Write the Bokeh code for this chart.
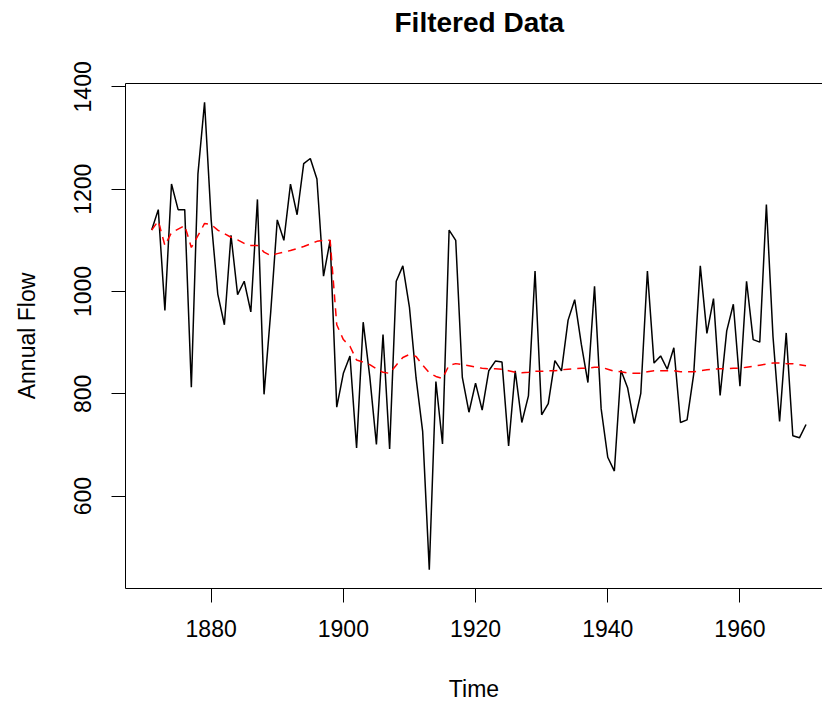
from bokeh.plotting import figure
from bokeh.models import Range1d, FixedTicker, LinearAxis
from bokeh.embed import file_html
from bokeh.resources import INLINE

# Annual flow of the Nile at Aswan, 1871-1970
years = list(range(1871, 1971))
flow = [1120, 1160, 963, 1210, 1160, 1160, 813, 1230, 1370, 1140,
        995, 935, 1110, 994, 1020, 960, 1180, 799, 958, 1140,
        1100, 1210, 1150, 1250, 1260, 1220, 1030, 1100, 774, 840,
        874, 694, 940, 833, 701, 916, 692, 1020, 1050, 969,
        831, 726, 456, 824, 702, 1120, 1100, 832, 764, 821,
        768, 845, 864, 862, 698, 845, 744, 796, 1040, 759,
        781, 865, 845, 944, 984, 897, 822, 1010, 771, 676,
        649, 846, 812, 742, 801, 1040, 860, 874, 848, 890,
        744, 749, 838, 1050, 918, 986, 797, 923, 975, 815,
        1020, 906, 901, 1170, 912, 746, 919, 718, 714, 740]

# Filtered level of the series
filtered = [1120, 1138, 1090, 1115, 1122, 1129, 1086, 1109, 1133, 1131,
            1120, 1113, 1106, 1101, 1094, 1090, 1090, 1077, 1070, 1074,
            1077, 1080, 1084, 1088, 1093, 1098, 1100, 1100, 935, 906,
            893, 866, 862, 857, 849, 842, 840, 856, 871, 877,
            873, 856, 841, 834, 830, 856, 859, 857, 855, 852,
            850, 849, 849, 848, 845, 842, 841, 842, 844, 844,
            845, 845, 847, 848, 849, 850, 850, 852, 852, 848,
            844, 843, 841, 840, 840, 843, 845, 845, 845, 845,
            843, 843, 843, 845, 847, 848, 849, 849, 850, 850,
            852, 854, 856, 858, 860, 860, 859, 859, 857, 855]

x_ticks = [1880, 1900, 1920, 1940, 1960]
y_ticks = [600, 800, 1000, 1200, 1400]

FONT = "Liberation Sans"

p = figure(width=822, height=704,
           x_range=Range1d(1867.04, 1972.49),
           y_range=Range1d(419.44, 1406.56),
           output_backend="svg", toolbar_location=None,
           min_border_left=125, min_border_right=0,
           min_border_top=83, min_border_bottom=115,
           background_fill_color="white", border_fill_color="white")

p.outline_line_color = None
p.grid.visible = False

p.title.text = "Filtered Data"
p.title.text_font = FONT
p.title.text_font_size = "28px"
p.title.text_font_style = "bold"
p.title.text_color = "black"
p.title.align = "left"
p.title.offset = 269
p.title.vertical_align = "bottom"
p.title.standoff = 0

for ax in (p.xaxis[0], p.yaxis[0]):
    ax.axis_line_color = "black"
    ax.axis_line_width = 1
    ax.major_tick_line_color = "black"
    ax.major_tick_line_width = 1
    ax.major_tick_out = 14
    ax.major_tick_in = 0
    ax.minor_tick_line_color = None
    ax.major_label_text_font = FONT
    ax.major_label_text_font_size = "23px"
    ax.major_label_text_color = "black"
    ax.axis_label_text_font = FONT
    ax.axis_label_text_font_size = "23px"
    ax.axis_label_text_font_style = "normal"
    ax.axis_label_text_color = "black"

p.xaxis[0].ticker = FixedTicker(ticks=x_ticks)
p.yaxis[0].ticker = FixedTicker(ticks=y_ticks)
p.xaxis[0].axis_label = "Time"
p.yaxis[0].axis_label = "Annual Flow"
p.xaxis[0].major_label_standoff = 17
p.xaxis[0].axis_label_standoff = 36
p.yaxis[0].major_label_orientation = "vertical"
p.yaxis[0].major_label_standoff = 20
p.yaxis[0].axis_label_standoff = 32

# top edge of the plot box; its hidden ticks leave room under the title
top = LinearAxis(ticker=FixedTicker(ticks=x_ticks))
top.axis_line_color = "black"
top.axis_line_width = 1
top.major_tick_line_alpha = 0
top.minor_tick_line_color = None
top.major_tick_out = 46
top.major_tick_in = 0
top.major_label_text_alpha = 0
top.major_label_standoff = 0
p.add_layout(top, "above")

p.line(years, flow, line_color="black", line_width=1.5)
p.line(years, filtered, line_color="red", line_width=1.5, line_dash="8 6")

open("out.html", "w").write(file_html(p, INLINE))
